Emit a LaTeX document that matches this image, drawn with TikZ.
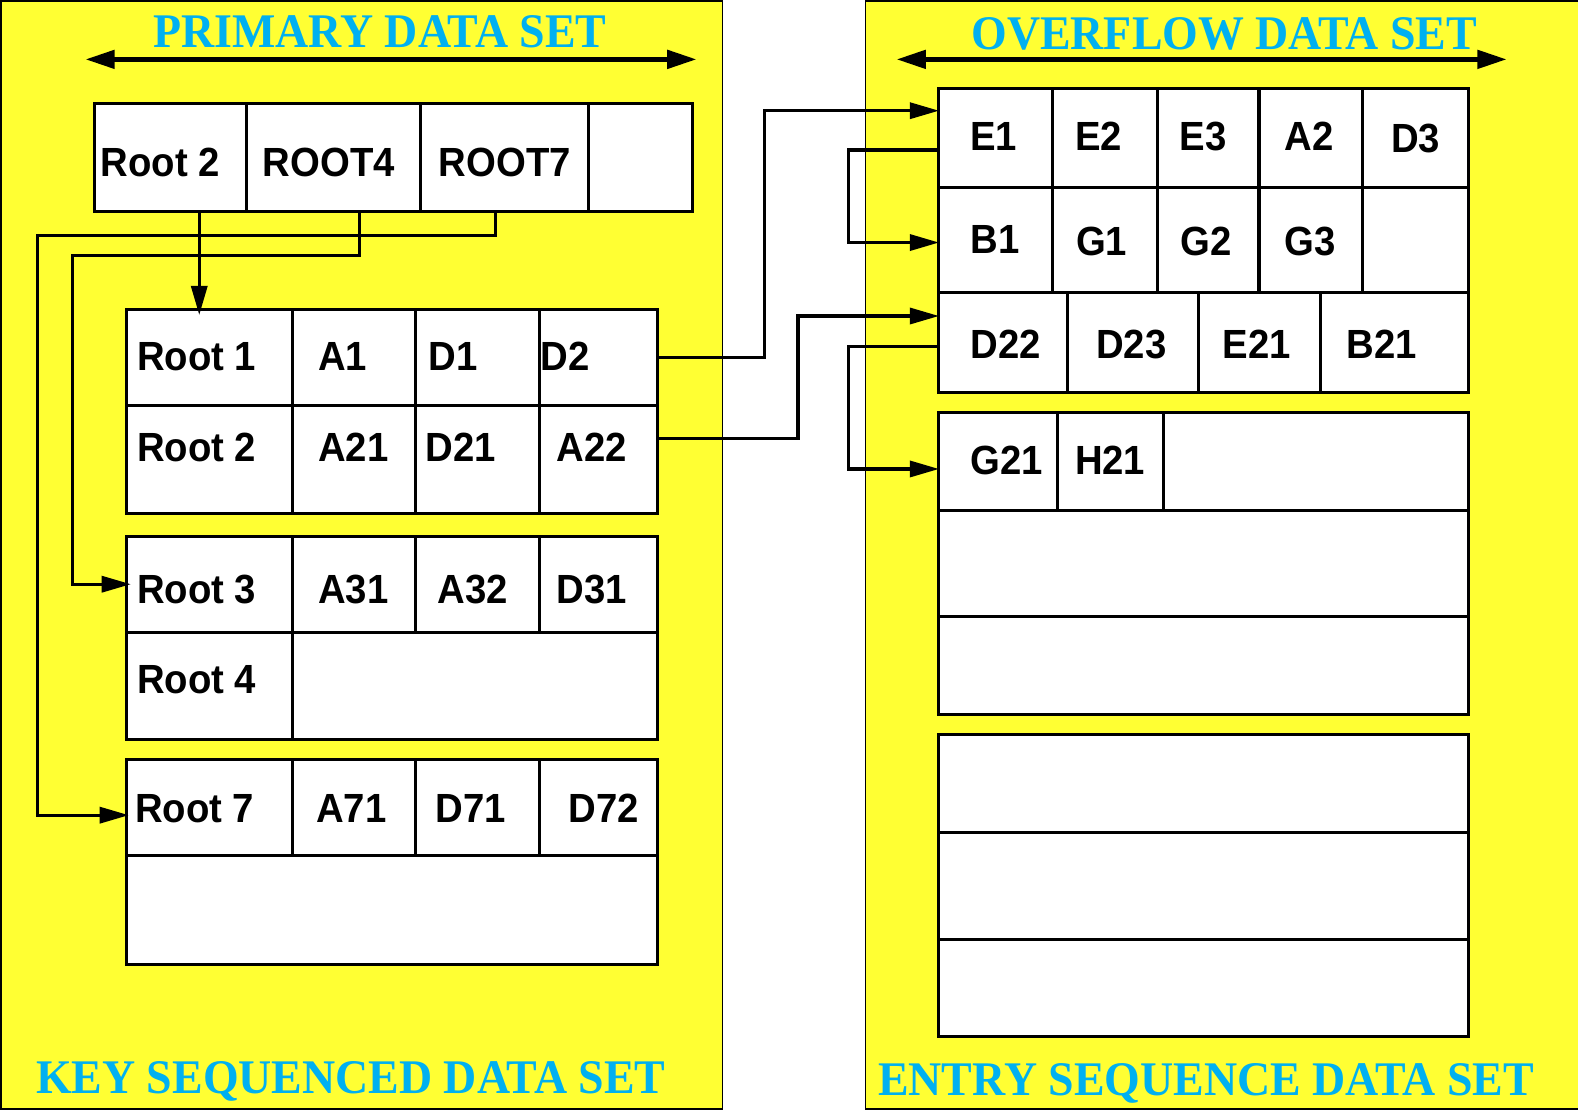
\documentclass[tikz,border=0pt]{standalone}
\usepackage{fontspec}
\setmainfont[FakeStretch=0.94]{Liberation Sans}
\newfontfamily\serifbold[FakeStretch=0.95]{Liberation Serif}
\usetikzlibrary{arrows.meta}
\definecolor{panelyellow}{HTML}{FFFF33}
\definecolor{titlecyan}{HTML}{00B0F0}
\newcommand{\mkcell}[5]{%
  \pgfmathsetmacro{\cellw}{#4-#2}%
  \pgfmathsetmacro{\cellh}{#5-#3}%
  \node[cell,minimum width=\cellw pt,minimum height=\cellh pt] (#1) at ({(#2+#4)/2},{(#3+#5)/2}) {};%
}
\newcommand{\mklbl}[4]{\node[lbl] (#1) at (#2,#3) {#4};}
\begin{document}
\begin{tikzpicture}[x=1pt,y=-1pt,
  panel/.style={draw=black,line width=1.5pt,fill=panelyellow,rectangle,inner sep=0pt,outer sep=0pt},
  cell/.style={draw=black,line width=3pt,fill=white,rectangle,inner sep=0pt,outer sep=0pt},
  lbl/.style={anchor=base west,inner sep=0pt,font=\fontsize{40.5}{48}\selectfont\bfseries},
  ttl/.style={anchor=base,inner sep=0pt,text=titlecyan,font=\serifbold\fontsize{48}{56}\selectfont\bfseries},
  conn/.style={draw=black,line width=3.2pt,-{Triangle[length=29pt,width=16pt]}},
  spanarrow/.style={draw=black,line width=4.5pt,{Triangle[length=29pt,width=18pt]}-{Triangle[length=29pt,width=18pt]}}
]
\useasboundingbox (0,0) rectangle (1568,1103);
\fill[white] (0,0) rectangle (1568,1103);
% panels
\node[panel,minimum width=717pt,minimum height=1101pt] (lpanel) at (359.5,551.5) {};
\node[panel,minimum width=740pt,minimum height=1101pt] (rpanel) at (1230,551.5) {};
% titles
\node[ttl] (tprim) at (377.5,47) {PRIMARY DATA SET};
\node[ttl] (tover) at (1216.5,49.5) {OVERFLOW DATA SET};
\node[ttl] (tkey) at (348.5,1087) {KEY SEQUENCED DATA SET};
\node[ttl] (tentry) at (1198.5,1089) {ENTRY SEQUENCE DATA SET};
% span arrows
\coordinate (la) at (85,59); \coordinate (lb) at (692,59);
\coordinate (ra) at (891,59); \coordinate (rb) at (1497,59);
\draw[spanarrow] (la) -- (lb);
\draw[spanarrow] (ra) -- (rb);
% top index box
\mkcell{t1}{94}{103}{245}{210}
\mkcell{t2}{245}{103}{418}{210}
\mkcell{t3}{418}{103}{585}{210}
\mkcell{t4}{585}{103}{688}{210}
% group 1
\mkcell{a11}{126}{308}{291}{403}
\mkcell{a12}{291}{308}{413}{403}
\mkcell{a13}{413}{308}{536}{403}
\mkcell{a14}{536}{308}{653}{403}
\mkcell{a21}{126}{403}{291}{510}
\mkcell{a22}{291}{403}{413}{510}
\mkcell{a23}{413}{403}{536}{510}
\mkcell{a24}{536}{403}{653}{510}
% group 2
\mkcell{b11}{126}{533}{291}{628}
\mkcell{b12}{291}{533}{413}{628}
\mkcell{b13}{413}{533}{536}{628}
\mkcell{b14}{536}{533}{653}{628}
\mkcell{b21}{126}{628}{291}{735}
\mkcell{b22}{291}{628}{653}{735}
% group 3
\mkcell{c11}{126}{755}{291}{850}
\mkcell{c12}{291}{755}{413}{850}
\mkcell{c13}{413}{755}{536}{850}
\mkcell{c14}{536}{755}{653}{850}
\mkcell{c2}{126}{850}{653}{958}
% overflow group A
\mkcell{e11}{933}{88}{1046}{186}
\mkcell{e12}{1046}{88}{1150}{186}
\mkcell{e13}{1150}{88}{1251}{186}
\mkcell{e14}{1251}{88}{1354}{186}
\mkcell{e15}{1354}{88}{1459}{186}
\mkcell{e21}{933}{186}{1046}{291}
\mkcell{e22}{1046}{186}{1150}{291}
\mkcell{e23}{1150}{186}{1251}{291}
\mkcell{e24}{1251}{186}{1354}{291}
\mkcell{e25}{1354}{186}{1459}{291}
\mkcell{e31}{933}{291}{1061}{390}
\mkcell{e32}{1061}{291}{1191}{390}
\mkcell{e33}{1191}{291}{1312}{390}
\mkcell{e34}{1312}{291}{1459}{390}
% overflow group B
\mkcell{f11}{933}{410}{1051}{507}
\mkcell{f12}{1051}{410}{1156}{507}
\mkcell{f13}{1156}{410}{1459}{507}
\mkcell{f2}{933}{507}{1459}{613}
\mkcell{f3}{933}{613}{1459}{710}
% overflow group C
\mkcell{h1}{933}{730}{1459}{827}
\mkcell{h2}{933}{827}{1459}{934}
\mkcell{h3}{933}{934}{1459}{1030}
% labels
\mklbl{lt1}{100}{175}{Root 2}
\mklbl{lt2}{261}{175}{ROOT4}
\mklbl{lt3}{436}{175}{ROOT7}
\mklbl{la11}{136}{368}{Root 1}
\mklbl{la12}{316}{368}{A1}
\mklbl{la13}{426}{368}{D1}
\mklbl{la14}{537}{368}{D2}
\mklbl{la21}{136}{459}{Root 2}
\mklbl{la22}{316}{459}{A21}
\mklbl{la23}{423}{459}{D21}
\mklbl{la24}{553}{459}{A22}
\mklbl{lb11}{136}{600}{Root 3}
\mklbl{lb12}{316}{600}{A31}
\mklbl{lb13}{435}{600}{A32}
\mklbl{lb14}{553}{600}{D31}
\mklbl{lb21}{136}{689}{Root 4}
\mklbl{lc11}{134}{817}{Root 7}
\mklbl{lc12}{314}{817}{A71}
\mklbl{lc13}{433}{817}{D71}
\mklbl{lc14}{565}{817}{D72}
\mklbl{le11}{964}{150}{E1}
\mklbl{le12}{1068}{150}{E2}
\mklbl{le13}{1172}{150}{E3}
\mklbl{le14}{1276}{150}{A2}
\mklbl{le15}{1382}{152}{D3}
\mklbl{le21}{964}{252}{B1}
\mklbl{le22}{1069}{254}{G1}
\mklbl{le23}{1173}{254}{G2}
\mklbl{le24}{1276}{254}{G3}
\mklbl{le31}{964}{356}{D22}
\mklbl{le32}{1089}{356}{D23}
\mklbl{le33}{1215}{356}{E21}
\mklbl{le34}{1338}{356}{B21}
\mklbl{lf11}{964}{471}{G21}
\mklbl{lf12}{1068}{471}{H21}
% connectors (left)
\draw[conn] ([xshift=28.5pt]t1.south) -- ([xshift=28.5pt,yshift=-5pt]t1.south |- a11.north);
\draw[conn] ([xshift=25.5pt]t2.south) |- (72,254) |- ([xshift=4pt]b11.west);
\draw[conn] ([xshift=-9.5pt]t3.south) |- (37,234) |- ([xshift=2pt,yshift=-7.5pt]c11.west);
% connectors (to overflow)
\draw[conn] (a14.east) -| (760,110) -- ([yshift=27pt]e11.west);
\draw[conn] ([yshift=20.5pt]a24.east) -| (793,314) -- ([yshift=26.5pt]e31.west);
\draw[conn] ([yshift=-12pt]e11.west) -| (843,241) -- ([yshift=-2.5pt]e21.west);
\draw[conn] ([yshift=-3.5pt]e31.west) -| (843,466) -- ([yshift=-7.5pt]f11.west);
\end{tikzpicture}
\end{document}
